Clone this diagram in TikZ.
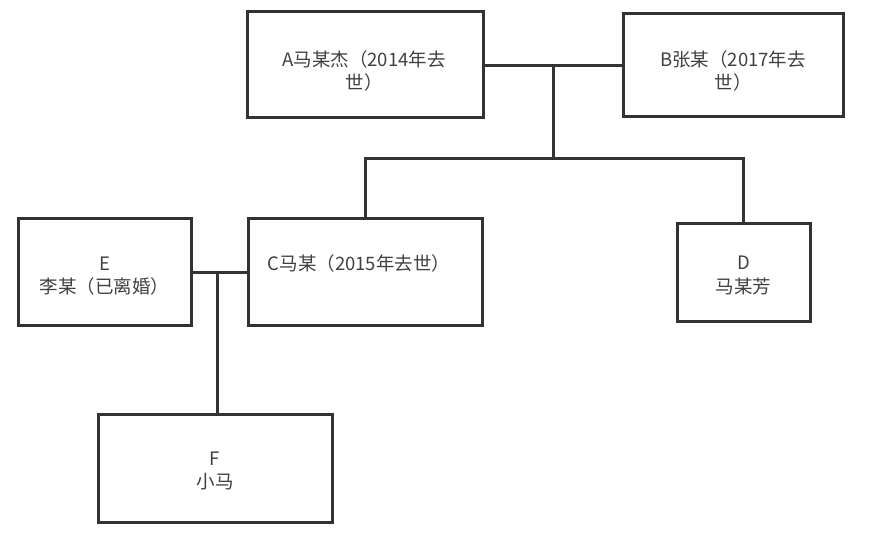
\documentclass[tikz,border=0pt]{standalone}
\usepackage{fontspec}
\setmainfont{Noto Sans CJK SC}
\definecolor{ln}{HTML}{333333}
\definecolor{tx}{HTML}{404040}
\begin{document}
\begin{tikzpicture}[x=1pt,y=-1pt,
  box/.style={draw=ln,line width=3pt,rectangle,inner sep=0pt},
  lbl/.style={align=center,text=tx,font=\fontsize{18.5}{23.5}\selectfont,inner sep=0pt},
  conn/.style={draw=ln,line width=3pt}]
\useasboundingbox (0,0) rectangle (877,537);
\node[box,minimum width=236pt,minimum height=106pt] (A) at (365,65) {};
\node[box,minimum width=220pt,minimum height=103pt] (B) at (733,65.5) {};
\node[box,minimum width=234pt,minimum height=106pt] (C) at (365,272) {};
\node[box,minimum width=133pt,minimum height=97pt] (D) at (743.5,272.5) {};
\node[box,minimum width=173pt,minimum height=107pt] (E) at (104.5,272) {};
\node[box,minimum width=234pt,minimum height=108pt] (F) at (215,468) {};
\node[lbl] (At) at (364,71) {A马某杰（2014年去\\世）};
\node[lbl] (Bt) at (733,71) {B张某（2017年去\\世）};
\node[lbl] (Ct) at (359,263) {C马某（2015年去世）};
\node[lbl] (Dt) at (743.5,275.5) {D\\马某芳};
\node[lbl] (Et) at (104.5,276) {E\\李某（已离婚）};
\node[lbl] (Ft) at (215,471) {F\\小马};
\coordinate (j1) at (553,66);
\coordinate (j2) at (553,159);
\coordinate (j3) at (217,272);
\draw[conn] (A.east |- j1) -- (B.west |- j1);
\draw[conn] (j1) -- (j2);
\draw[conn] (C.north) |- (j2) -| (D.north);
\draw[conn] (E.east) -- (C.west);
\draw[conn] (j3) -- (j3 |- F.north);
\end{tikzpicture}
\end{document}
